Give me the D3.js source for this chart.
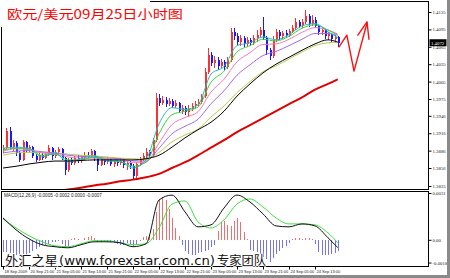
<!DOCTYPE html>
<html lang="zh">
<head>
<meta charset="UTF-8">
<title>欧元/美元 小时图</title>
<script src="https://d3js.org/d3.v7.min.js"></script>
<style>
  body { margin: 0; background: #fff; }
  svg { display: block; }
</style>
</head>
<body>
<svg></svg>
<script>
  // hourly candles, one per bar (EUR/USD)
  const opens = [
    1.3887,1.3890,1.3920,1.3892,1.3899,1.3882,1.3870,1.3901,1.3887,1.3892,
    1.3877,1.3870,1.3878,1.3873,1.3880,1.3890,1.3877,1.3884,1.3889,1.3873,
    1.3853,1.3870,1.3865,1.3873,1.3868,1.3875,1.3878,1.3877,1.3885,1.3873,
    1.3861,1.3870,1.3866,1.3872,1.3863,1.3868,1.3865,1.3870,1.3861,1.3865,
    1.3859,1.3842,1.3863,1.3872,1.3877,1.3884,1.3878,1.3904,1.3977,1.3968,
    1.3973,1.3966,1.3972,1.3963,1.3968,1.3954,1.3959,1.3953,1.3958,1.3963,
    1.3966,1.3970,1.3980,1.4022,1.4051,1.4037,1.4042,1.4032,1.4039,1.4030,
    1.4042,1.4091,1.4084,1.4073,1.4080,1.4070,1.4077,1.4072,1.4080,1.4085,
    1.4094,1.4080,1.4059,1.4049,1.4077,1.4091,1.4084,1.4089,1.4085,1.4092,
    1.4097,1.4108,1.4101,1.4108,1.4118,1.4104,1.4111,1.4101,1.4091,1.4094,
    1.4084,1.4087,1.4078,1.4082]
  const closes = [
    1.3890,1.3920,1.3892,1.3899,1.3882,1.3870,1.3901,1.3887,1.3892,1.3877,
    1.3870,1.3878,1.3873,1.3880,1.3890,1.3877,1.3884,1.3889,1.3873,1.3853,
    1.3870,1.3865,1.3873,1.3868,1.3875,1.3878,1.3877,1.3885,1.3873,1.3861,
    1.3870,1.3866,1.3872,1.3863,1.3868,1.3865,1.3870,1.3861,1.3865,1.3859,
    1.3842,1.3863,1.3872,1.3877,1.3884,1.3878,1.3904,1.3977,1.3968,1.3973,
    1.3966,1.3972,1.3963,1.3968,1.3954,1.3959,1.3953,1.3958,1.3963,1.3966,
    1.3970,1.3980,1.4022,1.4051,1.4037,1.4042,1.4032,1.4039,1.4030,1.4042,
    1.4091,1.4084,1.4073,1.4080,1.4070,1.4077,1.4072,1.4080,1.4085,1.4094,
    1.4080,1.4059,1.4049,1.4077,1.4091,1.4084,1.4089,1.4085,1.4092,1.4097,
    1.4108,1.4101,1.4108,1.4118,1.4104,1.4111,1.4101,1.4091,1.4094,1.4084,
    1.4087,1.4078,1.4082,1.4072]
  const highs = [
    1.3896,1.3925,1.3927,1.3904,1.3903,1.3885,1.3904,1.3903,1.3896,1.3894,
    1.3880,1.3882,1.3882,1.3884,1.3896,1.3892,1.3887,1.3892,1.3890,1.3875,
    1.3873,1.3875,1.3877,1.3878,1.3878,1.3884,1.3884,1.3889,1.3887,1.3877,
    1.3873,1.3873,1.3875,1.3873,1.3872,1.3870,1.3873,1.3872,1.3868,1.3868,
    1.3863,1.3866,1.3875,1.3882,1.3890,1.3887,1.3908,1.3985,1.3984,1.3980,
    1.3978,1.3977,1.3975,1.3973,1.3970,1.3965,1.3963,1.3965,1.3968,1.3972,
    1.3975,1.3984,1.4028,1.4063,1.4056,1.4049,1.4047,1.4044,1.4042,1.4047,
    1.4097,1.4097,1.4089,1.4085,1.4084,1.4082,1.4080,1.4085,1.4094,1.4099,
    1.4116,1.4084,1.4063,1.4084,1.4096,1.4094,1.4092,1.4094,1.4096,1.4103,
    1.4115,1.4111,1.4113,1.4128,1.4122,1.4120,1.4116,1.4103,1.4097,1.4096,
    1.4091,1.4089,1.4085,1.4084]
  const lows = [
    1.3882,1.3889,1.3887,1.3884,1.3877,1.3866,1.3868,1.3882,1.3884,1.3873,
    1.3866,1.3868,1.3870,1.3872,1.3877,1.3870,1.3873,1.3878,1.3870,1.3844,
    1.3849,1.3861,1.3861,1.3865,1.3865,1.3870,1.3873,1.3873,1.3868,1.3851,
    1.3859,1.3861,1.3863,1.3859,1.3858,1.3859,1.3861,1.3856,1.3853,1.3854,
    1.3835,1.3839,1.3859,1.3868,1.3873,1.3875,1.3875,1.3901,1.3963,1.3965,
    1.3961,1.3963,1.3959,1.3959,1.3951,1.3949,1.3947,1.3944,1.3954,1.3959,
    1.3963,1.3966,1.3977,1.4018,1.4032,1.4028,1.4025,1.4028,1.4025,1.4027,
    1.4039,1.4077,1.4068,1.4066,1.4065,1.4065,1.4066,1.4068,1.4073,1.4080,
    1.4077,1.4051,1.4042,1.4046,1.4073,1.4077,1.4078,1.4080,1.4082,1.4089,
    1.4094,1.4097,1.4097,1.4104,1.4099,1.4101,1.4097,1.4085,1.4085,1.4078,
    1.4077,1.4073,1.4072,1.4065]

  // moving averages, read every 4th bar
  const maIdx = [0,4,8,12,16,20,24,28,32,36,40,44,48,52,56,60,64,68,72,76,80,84,88,92,96,100,103]
  const maCyan = [1.3890,1.3892,1.3890,1.3875,1.3882,1.3866,1.3872,1.3877,1.3868,1.3867,1.3856,1.3870,1.3932,1.3960,1.3957,1.3965,1.4018,1.4031,1.4067,1.4072,1.4082,1.4077,1.4086,1.4101,1.4105,1.4091,1.4081]
  const maGreen = [1.3887,1.3890,1.3889,1.3878,1.3880,1.3870,1.3870,1.3875,1.3870,1.3868,1.3859,1.3866,1.3915,1.3948,1.3954,1.3961,1.4004,1.4023,1.4056,1.4067,1.4078,1.4075,1.4083,1.4097,1.4103,1.4094,1.4085]
  const maPink = [1.3885,1.3889,1.3888,1.3882,1.3880,1.3875,1.3873,1.3873,1.3872,1.3870,1.3865,1.3866,1.3899,1.3931,1.3943,1.3953,1.3987,1.4009,1.4039,1.4055,1.4069,1.4070,1.4078,1.4090,1.4098,1.4094,1.4087]
  const maPurple = [1.3882,1.3885,1.3886,1.3884,1.3882,1.3878,1.3876,1.3875,1.3873,1.3872,1.3868,1.3868,1.3890,1.3915,1.3928,1.3940,1.3967,1.3989,1.4016,1.4034,1.4050,1.4057,1.4067,1.4078,1.4088,1.4088,1.4085]
  const maOlive = [1.3878,1.3882,1.3883,1.3883,1.3882,1.3880,1.3878,1.3877,1.3875,1.3873,1.3872,1.3871,1.3883,1.3901,1.3913,1.3923,1.3944,1.3963,1.3986,1.4005,1.4022,1.4032,1.4044,1.4056,1.4067,1.4072,1.4073]
  const maBlack = [1.3856,1.3859,1.3863,1.3866,1.3868,1.3868,1.3869,1.3870,1.3870,1.3870,1.3870,1.3872,1.3878,1.3892,1.3908,1.3922,1.3935,1.3954,1.3980,1.4001,1.4020,1.4035,1.4047,1.4059,1.4070,1.4077,1.4073]
  const maRed = [1.3803,1.3806,1.3809,1.3812,1.3816,1.3819,1.3822,1.3826,1.3829,1.3833,1.3836,1.3840,1.3846,1.3856,1.3866,1.3878,1.3891,1.3904,1.3918,1.3930,1.3942,1.3954,1.3966,1.3978,1.3991,1.4001,1.4009]

  // MACD lines (same sampling) and histogram (every bar)
  const macdMain = [0.00142,0.00065,0.00006,-0.00032,-0.00045,-0.00052,-0.00032,-0.00013,-0.00013,-0.00019,-0.00045,-0.00026,0.00258,0.00290,0.00181,0.00084,0.00097,0.00206,0.00290,0.00245,0.00168,0.00090,0.00084,0.00103,0.00090,0.00013,-0.00050]
  const macdSignal = [0.00135,0.00077,0.00026,-0.00013,-0.00039,-0.00045,-0.00026,-0.00006,-0.00006,-0.00019,-0.00032,-0.00026,0.00077,0.00232,0.00252,0.00116,0.00077,0.00129,0.00232,0.00265,0.00213,0.00142,0.00103,0.00103,0.00097,0.00045,-0.00020]
  const macdHist = [
    -0.00077,-0.00077,-0.00084,-0.00090,-0.00097,-0.00097,-0.00090,-0.00097,-0.00084,-0.00071,
    -0.00058,-0.00045,-0.00032,-0.00032,-0.00026,-0.00013,-0.00013,-0.00010,-0.00026,-0.00045,
    -0.00039,0.00006,0.00010,0.00006,-0.00003,0.00013,0.00019,0.00026,0.00013,-0.00013,
    -0.00013,-0.00010,-0.00013,-0.00013,-0.00019,-0.00026,-0.00032,-0.00032,-0.00019,-0.00026,
    -0.00039,-0.00026,-0.00006,0.00019,0.00026,0.00032,0.00071,0.00181,0.00258,0.00277,
    0.00258,0.00200,0.00142,0.00077,0.00026,-0.00032,-0.00071,-0.00090,-0.00097,-0.00097,
    -0.00084,-0.00077,-0.00071,-0.00065,-0.00045,-0.00032,0.00058,0.00116,0.00123,0.00097,
    0.00090,0.00123,0.00142,0.00116,0.00052,0.00003,-0.00065,-0.00071,-0.00077,-0.00090,
    -0.00110,-0.00123,-0.00142,-0.00116,-0.00090,-0.00071,-0.00052,-0.00039,-0.00019,0.00006,
    0.00013,0.00013,0.00006,0.00013,0.00010,0.00006,-0.00026,-0.00077,-0.00097,-0.00097,
    -0.00097,-0.00090,-0.00084,-0.00071]

  // hand drawn forecast arrow: [bar, price]
  const forecastPath = [[103.4, 1.4065], [105.8, 1.4085], [108.0, 1.4023], [112.0, 1.4106]]
  const forecastHead = [[109.2, 1.4085], [112.0, 1.4108], [112.6, 1.4078]]

  // axis labels
  const priceTicks = [1.4125, 1.4095, 1.4065, 1.4035, 1.4005, 1.3975, 1.3946, 1.3916, 1.3886, 1.3856, 1.3825]
  const macdTicks = [0.0031, 0, -0.0018]
  const macdTickLabels = ['0.0031', '0.00', '-0.0018']
  const timeTickIdx = [0, 8, 16, 24, 32, 40, 48, 56, 64, 72, 80, 88, 96]
  const timeLabels = ['18 Sep 2009', '20 Sep 21:00', '21 Sep 05:00', '21 Sep 13:00', '21 Sep 21:00',
    '22 Sep 05:00', '22 Sep 13:00', '22 Sep 21:00', '23 Sep 05:00', '23 Sep 13:00',
    '23 Sep 21:00', '24 Sep 05:00', '24 Sep 13:00']
  const titleText = '欧元/美元09月25日小时图'
  const macdTitle = 'MACD(12,26,9) -0.0005 -0.0002 0.0000 -0.0007'
  const watermark = ['外汇之星', '(www.forexstar.com.cn)', '专家团队']

  const width = 450, height = 278
  const plotL = 1.5, plotR = 428.5
  const mainTop = 1.5, mainBot = 189.5
  const subTop = 191.5, subBot = 266.5

  const svg = d3.select('svg').attr('width', width).attr('height', height)
    .style('font-family', '"Liberation Sans", Arial, sans-serif')

  const x = d3.scaleLinear().domain([0, closes.length - 1]).range([3, 337.75])
  const yP = d3.scaleLinear().domain([1.3825, 1.4125]).range([186, 12])
  const yM = d3.scaleLinear().domain([-0.0017, 0.0031]).range([266, 192])

  svg.append('rect').attr('width', width).attr('height', height).attr('fill', '#fff')

  const defs = svg.append('defs')
  defs.append('clipPath').attr('id', 'clipMain').append('rect')
    .attr('x', plotL).attr('y', mainTop).attr('width', plotR - plotL).attr('height', mainBot - mainTop)
  defs.append('clipPath').attr('id', 'clipSub').append('rect')
    .attr('x', plotL).attr('y', subTop).attr('width', plotR - plotL).attr('height', subBot - subTop)

  // ---- main panel: candles
  const bars = closes.map((c, i) => ({ i, o: opens[i], h: highs[i], l: lows[i], c }))
  const upColor = '#ff3030', downColor = '#1818ff'

  const main = svg.append('g').attr('clip-path', 'url(#clipMain)')
  const candle = main.append('g').attr('shape-rendering', 'crispEdges')
    .selectAll('g').data(bars).join('g')
  candle.append('line')
    .attr('x1', d => Math.round(x(d.i)) + 0.5).attr('x2', d => Math.round(x(d.i)) + 0.5)
    .attr('y1', d => yP(d.h)).attr('y2', d => yP(d.l))
    .attr('stroke', d => d.c >= d.o ? upColor : downColor)
  candle.append('rect')
    .attr('x', d => Math.round(x(d.i)) - 0.5)
    .attr('width', 2)
    .attr('y', d => yP(Math.max(d.o, d.c)))
    .attr('height', d => Math.max(1, Math.abs(yP(d.o) - yP(d.c))))
    .attr('fill', d => d.c >= d.o ? upColor : downColor)

  // ---- moving averages
  const maLine = d3.line().x(d => x(d[0])).y(d => yP(d[1])).curve(d3.curveMonotoneX)
  const maSeries = [
    { v: maOlive, color: '#b4cc4a', w: 1 },
    { v: maPurple, color: '#a668f0', w: 1 },
    { v: maPink, color: '#f77ab8', w: 1 },
    { v: maGreen, color: '#3ad23a', w: 1 },
    { v: maCyan, color: '#22bcbc', w: 1 },
    { v: maBlack, color: '#000', w: 1 },
    { v: maRed, color: '#e00000', w: 2 }
  ]
  main.append('g').selectAll('path').data(maSeries).join('path')
    .attr('d', s => maLine(maIdx.map((k, j) => [k, s.v[j]])))
    .attr('fill', 'none')
    .attr('stroke', s => s.color)
    .attr('stroke-width', s => s.w)

  // ---- MACD panel
  const sub = svg.append('g').attr('clip-path', 'url(#clipSub)')
  sub.append('g').attr('shape-rendering', 'crispEdges')
    .selectAll('rect').data(macdHist).join('rect')
    .attr('x', (d, i) => Math.round(x(i)) - 0.5)
    .attr('width', 1.6)
    .attr('y', d => d >= 0 ? yM(d) : yM(0))
    .attr('height', d => Math.abs(yM(d) - yM(0)))
    .attr('fill', d => d >= 0 ? '#ef6f6f' : '#7474f2')

  const macdLine = d3.line().x(d => x(d[0])).y(d => yM(d[1])).curve(d3.curveMonotoneX)
  sub.append('path').attr('d', macdLine(maIdx.map((k, j) => [k, macdSignal[j]])))
    .attr('fill', 'none').attr('stroke', '#3ee03e').attr('stroke-width', 1)
  sub.append('path').attr('d', macdLine(maIdx.map((k, j) => [k, macdMain[j]])))
    .attr('fill', 'none').attr('stroke', '#111').attr('stroke-width', 1)

  svg.append('text').attr('x', 4).attr('y', 197).attr('font-size', 4.6).attr('fill', '#222')
    .text(macdTitle)

  // ---- frames
  const frame = svg.append('g').attr('fill', 'none').attr('stroke', '#000').attr('stroke-width', 1)
  frame.append('rect').attr('x', plotL).attr('y', mainTop).attr('width', plotR - plotL).attr('height', mainBot - mainTop)
  frame.append('rect').attr('x', plotL).attr('y', subTop).attr('width', plotR - plotL).attr('height', subBot - subTop)

  // ---- right price axis
  svg.append('g').attr('transform', `translate(${plotR},0)`)
    .call(d3.axisRight(yP).tickValues(priceTicks).tickSize(3).tickSizeOuter(0).tickFormat(d3.format('.4f')))
    .call(g => g.select('.domain').remove())
    .call(g => g.selectAll('line').attr('stroke', '#000'))
    .call(g => g.selectAll('text').attr('x', 4).attr('font-size', 4.8).attr('fill', '#222')
      .attr('font-family', '"Liberation Serif", serif'))

  // current price tag
  const last = closes[closes.length - 1]
  svg.append('rect').attr('x', plotR + 1).attr('y', yP(last) - 3.5).attr('width', 17).attr('height', 7).attr('fill', '#000')
  svg.append('text').attr('x', plotR + 2.5).attr('y', yP(last) + 1.8).attr('font-size', 4.8)
    .attr('font-family', '"Liberation Serif", serif').attr('fill', '#fff').text(last.toFixed(4))

  // ---- MACD axis
  svg.append('g').attr('transform', `translate(${plotR},0)`)
    .call(d3.axisRight(yM).tickValues(macdTicks).tickSize(3).tickSizeOuter(0).tickFormat((d, i) => macdTickLabels[i]))
    .call(g => g.select('.domain').remove())
    .call(g => g.selectAll('.tick').filter(d => d === -0.0018).attr('transform', `translate(0,${yM(-0.0018) - 4.5})`))
    .call(g => g.selectAll('.tick').filter(d => d === 0.0031).attr('transform', `translate(0,${yM(0.0031) + 1.5})`))
    .call(g => g.selectAll('line').attr('stroke', '#000'))
    .call(g => g.selectAll('text').attr('x', 4).attr('font-size', 4.8).attr('fill', '#222')
      .attr('font-family', '"Liberation Serif", serif'))

  // ---- time axis
  svg.append('g').attr('transform', `translate(0,${subBot})`)
    .call(d3.axisBottom(x).tickValues(timeTickIdx).tickSize(3).tickSizeOuter(0).tickFormat((d, i) => timeLabels[i]))
    .call(g => g.select('.domain').remove())
    .call(g => g.selectAll('line').attr('stroke', '#000'))
    .call(g => g.selectAll('text').attr('text-anchor', 'start').attr('x', 1).attr('y', 3.5).attr('dy', '0.71em')
      .attr('font-size', 4).attr('fill', '#222'))

  // ---- forecast arrow
  const arrowLine = d3.line().x(d => x(d[0])).y(d => yP(d[1]))
  svg.append('g').attr('fill', 'none').attr('stroke', '#ff1010').attr('stroke-width', 1.4)
    .attr('stroke-linejoin', 'round').attr('stroke-linecap', 'round')
    .selectAll('path').data([forecastPath, forecastHead]).join('path')
    .attr('d', arrowLine)

  // ---- outer border
  svg.append('rect').attr('x', 447).attr('y', 0).attr('width', 3).attr('height', height).attr('fill', '#8a8a8a')
  svg.append('rect').attr('x', 0).attr('y', 275).attr('width', width).attr('height', 3).attr('fill', '#8a8a8a')

  // ---- title
  svg.append('rect').attr('x', 0).attr('y', 0).attr('width', 150).attr('height', 27).attr('fill', '#fff')
  svg.append('text').attr('x', 7).attr('y', 19)
    .attr('font-family', '"Noto Sans CJK SC", sans-serif').attr('font-size', 12.5)
    .attr('textLength', 176).attr('lengthAdjust', 'spacingAndGlyphs').attr('fill', '#ff0000')
    .text(titleText)

  // ---- watermark, three parts
  const wmParts = [
    { t: watermark[0], x: 5, w: 53, font: '"Noto Sans CJK SC", sans-serif', size: 13 },
    { t: watermark[1], x: 59, w: 156, font: '"DejaVu Sans", sans-serif', size: 13 },
    { t: watermark[2], x: 217, w: 49, font: '"Noto Sans CJK SC", sans-serif', size: 12 }
  ]
  svg.append('g').attr('fill', '#111').attr('stroke', '#fff').attr('stroke-width', 1.6)
    .attr('paint-order', 'stroke').attr('stroke-linejoin', 'round')
    .selectAll('text').data(wmParts).join('text')
    .attr('x', d => d.x).attr('y', 265)
    .attr('font-family', d => d.font).attr('font-size', d => d.size)
    .attr('textLength', d => d.w).attr('lengthAdjust', 'spacingAndGlyphs')
    .text(d => d.t)
</script>
</body>
</html>
